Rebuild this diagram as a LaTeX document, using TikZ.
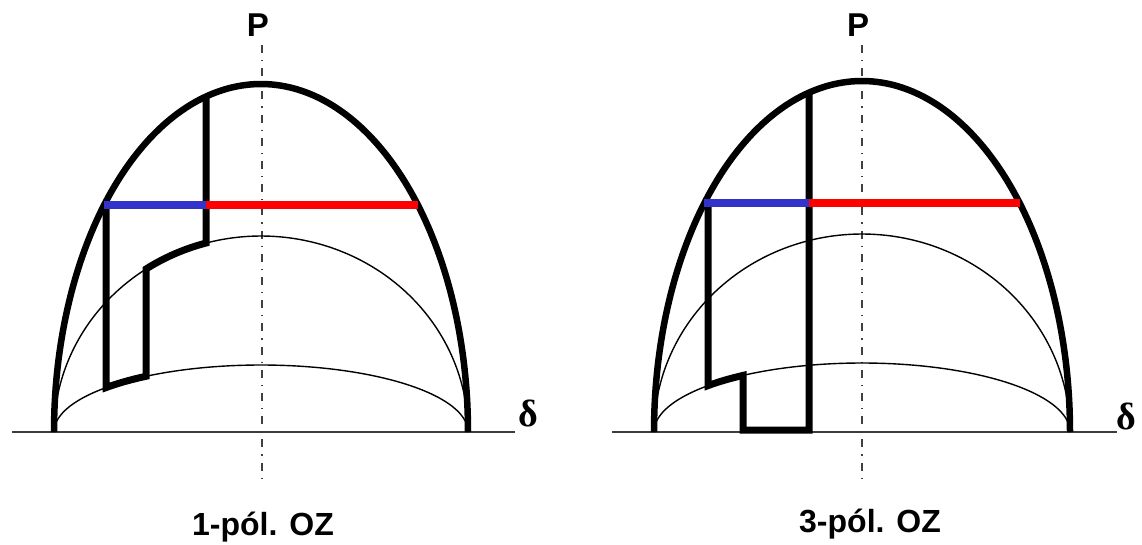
\documentclass[tikz,border=0pt]{standalone}
\usepackage{fontspec}
\setmainfont{Liberation Serif}
\newfontfamily\lsans{Liberation Sans}
\definecolor{myblue}{RGB}{51,51,204}
\definecolor{myred}{RGB}{255,0,0}
\definecolor{basegray}{RGB}{60,60,60}
\begin{document}
\begin{tikzpicture}[x=1pt,y=-1pt,
 outer/.style={line width=6.5pt},
 thinarc/.style={line width=1.4pt},
 thickpath/.style={line width=7pt},
 bluebar/.style={line width=7.5pt, draw=myblue},
 redbar/.style={line width=7.5pt, draw=myred},
 baseline/.style={line width=1.8pt, draw=basegray},
 axisline/.style={line width=1.2pt, draw=black!75, dash pattern=on 8pt off 7pt on 1.2pt off 7pt},
 lbl/.style={font=\lsans\bfseries\fontsize{32}{34}\selectfont, inner sep=0pt},
 ptxt/.style={font=\lsans\bfseries\fontsize{33}{35}\selectfont, inner sep=0pt},
 dtxt/.style={font=\bfseries\fontsize{38}{40}\selectfont, inner sep=0pt}]
\useasboundingbox (0,0) rectangle (1142,544);
% ---------- left diagram ----------
\draw[baseline] (12,432) -- (515,432);
\draw[axisline] (262,45) -- (262,478);
\draw[thinarc] plot[domain=0:180,samples=150] ({261+207*cos(\x)},{432-196*sin(\x)});
\draw[thinarc] plot[domain=0:180,samples=150] ({261+207*cos(\x)},{432-67*sin(\x)});
\draw[outer] plot[domain=0:180,samples=150] ({261+207*cos(\x)},{432-348*sin(\x)});
\draw[thickpath] (206,{432-348*sqrt(1-((206-261)/207)^2)})
  -- (206,{432-196*sqrt(1-((206-261)/207)^2)})
  -- plot[domain=206:146,samples=30] (\x,{432-196*sqrt(1-((\x-261)/207)^2)})
  -- (146,{432-67*sqrt(1-((146-261)/207)^2)})
  -- plot[domain=146:106,samples=20] (\x,{432-67*sqrt(1-((\x-261)/207)^2)})
  -- (106,205);
\coordinate (bL) at ({261-207*sqrt(1-((432-205)/348)^2)},205);
\coordinate (mL) at (206,205);
\coordinate (rL) at ({261+207*sqrt(1-((432-205)/348)^2)},205);
\draw[bluebar] (bL) -- (mL);
\draw[redbar] (mL) -- (rL);
\node[ptxt] (pL) at (258,25) {P};
\node[dtxt] (dL) at (528,413) {δ};
\node[lbl, anchor=base] (tL) at (263,535) {1-pól. OZ};
% ---------- right diagram ----------
\draw[baseline] (612,432) -- (1117,432);
\draw[axisline] (862,45) -- (862,478);
\draw[thinarc] plot[domain=0:180,samples=150] ({862+208*cos(\x)},{432-198*sin(\x)});
\draw[thinarc] plot[domain=0:180,samples=150] ({862+208*cos(\x)},{432-69*sin(\x)});
\draw[outer] plot[domain=0:180,samples=150] ({862+208*cos(\x)},{432-351*sin(\x)});
\draw[thickpath] (809,{432-351*sqrt(1-((809-862)/208)^2)})
  -- (809,430) -- (743,430)
  -- (743,{432-69*sqrt(1-((743-862)/208)^2)})
  -- plot[domain=743:708,samples=20] (\x,{432-69*sqrt(1-((\x-862)/208)^2)})
  -- (708,203);
\coordinate (bR) at ({862-208*sqrt(1-((432-203)/351)^2)},203);
\coordinate (mR) at (809,203);
\coordinate (rR) at ({862+208*sqrt(1-((432-203)/351)^2)},203);
\draw[bluebar] (bR) -- (mR);
\draw[redbar] (mR) -- (rR);
\node[ptxt] (pR) at (858,25) {P};
\node[dtxt] (dR) at (1126,416) {δ};
\node[lbl, anchor=base] (tR) at (870,532) {3-pól. OZ};
\end{tikzpicture}
\end{document}
